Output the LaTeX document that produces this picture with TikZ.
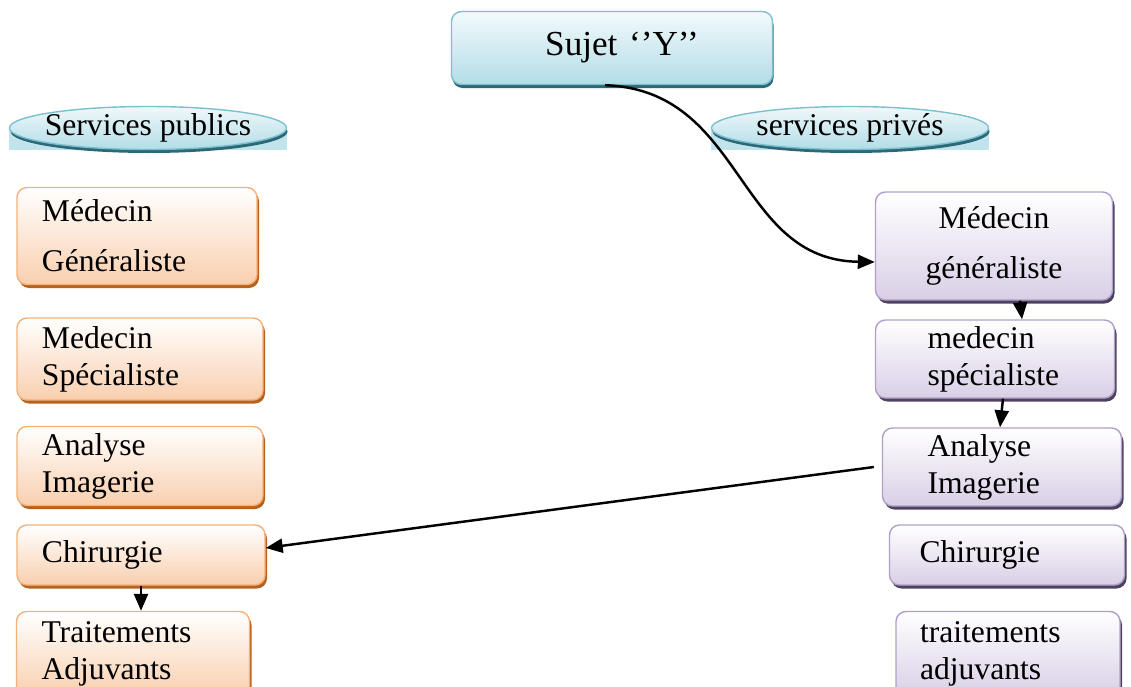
\documentclass[tikz,border=0pt]{standalone}
\usepackage{fontspec}
\setmainfont{Liberation Serif}
\definecolor{cOrange}{HTML}{F2B27A}
\definecolor{cOrangeDark}{HTML}{B8621E}
\definecolor{cOrangeFill}{HTML}{F9CFAE}
\definecolor{cPurple}{HTML}{AFA0C8}
\definecolor{cPurpleDark}{HTML}{4E4260}
\definecolor{cPurpleFill}{HTML}{D9CFE6}
\definecolor{cTeal}{HTML}{7CC0CE}
\definecolor{cTealDark}{HTML}{2C6878}
\definecolor{cTealFill}{HTML}{B2DDE7}
\usetikzlibrary{shapes,arrows.meta,shadows,backgrounds}

\tikzset{
	pubbox/.style={draw=cOrange, line width=0.8pt, rounded corners=0.2cm, top color=white, bottom color=cOrangeFill,
		drop shadow={shadow xshift=0.04cm, shadow yshift=-0.07cm, fill=cOrangeDark, opacity=1},
		align=left, inner xsep=0.5cm, font=\fontsize{18}{21}\selectfont},
	privbox/.style={draw=cPurple, line width=0.8pt, rounded corners=0.2cm, top color=white, bottom color=cPurpleFill,
		drop shadow={shadow xshift=0.04cm, shadow yshift=-0.07cm, fill=cPurpleDark, opacity=1},
		align=left, font=\fontsize{18}{21}\selectfont},
	headbox/.style={draw=cTeal, line width=0.8pt, rounded corners=0.2cm, top color=white!85!cTealFill, bottom color=cTealFill,
		drop shadow={shadow xshift=0.02cm, shadow yshift=-0.07cm, fill=cTealDark, opacity=1},
		font=\fontsize{20}{23}\selectfont},
	servell/.style={ellipse, draw=cTeal, line width=0.8pt, top color=white!80!cTealFill, bottom color=cTealFill,
		drop shadow={shadow xshift=0.02cm, shadow yshift=-0.07cm, fill=cTealDark, opacity=1},
		minimum width=5.54cm, minimum height=0.86cm, inner xsep=-0.5cm, inner ysep=-0.1cm, font=\fontsize{18}{21}\selectfont},
	link/.style={-{Triangle[length=0.34cm, width=0.28cm]}, line width=1.4pt}
}

\begin{document}
\begin{tikzpicture}
		\useasboundingbox (0,0) rectangle (22.62,-13.74);
		\clip (0,0) rectangle (22.62,-13.74);
		% en-tete
		\node[headbox, minimum width=6.42cm, minimum height=1.46cm, text width=4.4cm, align=center] (sujet) at (12.24,-0.96) {\hspace*{0.4cm}Sujet ‘’Y’’};
		\node[servell] (pubhead) at (2.96,-2.56) {Services publics};
		\node[servell] (privhead) at (17.0,-2.56) {services privés};
		\begin{scope}[on background layer]
			\fill[cTealFill!80] ([yshift=-0.04cm]pubhead.west) rectangle (pubhead.south -| pubhead.east);
			\fill[cTealFill!80] ([yshift=-0.04cm]privhead.west) rectangle (privhead.south -| privhead.east);
		\end{scope}
		% services publics
		\node[pubbox, text width=3.8cm, minimum height=1.94cm] (pub1) at (2.74,-4.72) {Médecin\\[0.26cm]Généraliste};
		\node[pubbox, text width=3.92cm, minimum height=1.64cm] (pub2) at (2.8,-7.18) {Medecin\\Spécialiste};
		\node[pubbox, text width=3.92cm, minimum height=1.58cm] (pub3) at (2.8,-9.32) {Analyse\\Imagerie};
		\node[pubbox, text width=3.96cm, minimum height=1.2cm] (pub4) at (2.82,-11.1) {Chirurgie};
		\node[pubbox, text width=3.66cm, minimum height=1.7cm] (pub5) at (2.66,-13.08) {Traitements\\Adjuvants};
		% services prives
		\node[privbox, align=center, text width=3.74cm, inner xsep=0.5cm, minimum height=2.16cm] (priv1) at (19.88,-4.92) {Médecin\\[0.26cm]généraliste};
		\node[privbox, text width=2.7cm, inner xsep=1.04cm, minimum height=1.56cm] (priv2) at (19.9,-7.18) {medecin\\spécialiste};
		\node[privbox, text width=2.98cm, inner xsep=0.9cm, minimum height=1.56cm] (priv3) at (20.04,-9.34) {Analyse\\Imagerie};
		\node[privbox, text width=3.5cm, inner xsep=0.6cm, minimum height=1.2cm] (priv4) at (20.14,-11.1) {Chirurgie};
		\node[privbox, text width=3.52cm, inner xsep=0.48cm, minimum height=1.7cm] (priv5) at (20.16,-13.08) {traitements\\adjuvants};
		% parcours
		\draw[link] ([xshift=-0.14cm]sujet.south) .. controls (14.9,-1.8) and (14.7,-5.2) .. ([yshift=-0.32cm]priv1.west);
		\draw[link] ([xshift=0.52cm]priv1.south) -- ([xshift=0.54cm]priv2.north);
		\draw[link] ([xshift=0.16cm]priv2.south) -- ([xshift=-0.04cm]priv3.north);
		\draw[link] ([xshift=-0.16cm]priv3.west) -- ([yshift=0.14cm]pub4.east);
		\draw[link] (pub4.south) -- (pub4.south |- pub5.north);
		\end{tikzpicture}
\end{document}
